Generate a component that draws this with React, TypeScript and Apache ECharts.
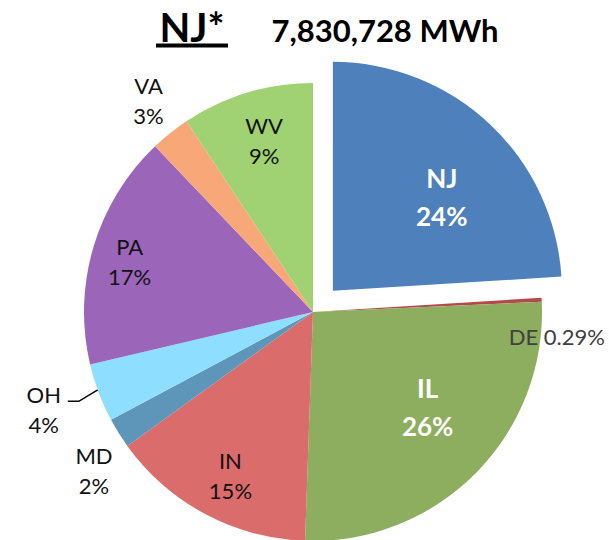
import React, { useEffect, useRef } from 'react';
import * as echarts from 'echarts';

const categories = ['NJ', 'DE', 'IL', 'IN', 'MD', 'OH', 'PA', 'VA', 'WV'];
// shares in percent of 7,830,728 MWh
const shares = [24.0, 0.29, 26.25, 14.5, 2.14, 4.13, 16.56, 2.79, 9.32];
const colors = ['#4E80BC', '#B5484A', '#8DAD5F', '#DB6C6C', '#5E96BA', '#8DDEFF', '#9B66B9', '#F8A878', '#A0D172'];
const insideLabels = ['NJ', 'IL', 'IN', 'PA', 'WV'];
const stateTitle = 'NJ*';
const totalTitle = '7,830,728 MWh';

// label placement (style): [fraction of radius, angular shift in degrees]
const labelPlace: Record<string, [number, number]> = {
  NJ: [0.62, 5.6], DE: [1.07, 8.7], IL: [0.65, -5.1], IN: [0.8, -1.3], MD: [1.18, -3.9],
  OH: [1.25, 0.8], PA: [0.83, -1.3], VA: [1.17, 0.7], WV: [0.78, 0.9],
};

const CX = 313, CY = 312, R = 229, OFFSET = 29;
const FONT = 'Lato, "Noto Sans", sans-serif';

export default function App() {
  const ref = useRef<HTMLDivElement>(null);
  useEffect(() => {
    if (!ref.current) return;
    const chart = echarts.init(ref.current, undefined, { renderer: 'svg' });
    const total = shares.reduce((a, b) => a + b, 0);
    const mids: number[] = [];
    let cum = 0;
    shares.forEach((v) => { mids.push(((cum + v / 2) / total) * 2 * Math.PI); cum += v; });

    const place = (i: number) => {
      const name = categories[i];
      const [f, shift] = labelPlace[name];
      const a0 = mids[i];
      let cx = CX, cy = CY;
      if (name === 'NJ') { cx += OFFSET * Math.sin(a0); cy -= OFFSET * Math.cos(a0); }
      const a = a0 + (shift * Math.PI) / 180;
      return { x: cx + f * R * Math.sin(a), y: cy - f * R * Math.cos(a), cx, cy, a0 };
    };

    const data = categories.map((name, i) => {
      const big = name === 'NJ' || name === 'IL';
      const isDE = name === 'DE';
      const isNJ = name === 'NJ';
      let padding: number[] = [0, 0, 0, 0];
      if (isNJ) {
        // the selected slice keeps its default inside position, shift the text sideways by padding
        const p = place(i);
        const dx = p.x - (p.cx + 0.5 * R * Math.sin(p.a0));
        padding = [0, 2 * Math.max(-dx, 0), 0, 2 * Math.max(dx, 0)];
      }
      return {
        name,
        value: shares[i],
        selected: isNJ,
        itemStyle: { color: colors[i] },
        label: {
          position: insideLabels.includes(name) ? 'inside' : 'outside',
          overflow: 'none',
          formatter: (prm: any) => isDE
            ? `${prm.name} ${prm.value.toFixed(2)}%`
            : `${prm.name}\n${Math.round(prm.value)}%` + (isNJ ? '\n{gap| }' : ''),
          color: big ? '#fff' : isDE ? '#404040' : '#111',
          fontWeight: big ? 'bold' : 'normal',
          fontSize: big ? 26 : 22,
          lineHeight: big ? 38 : 30,
          fontFamily: FONT,
          padding,
          rich: { gap: { fontSize: 10, lineHeight: 17 } },
        },
        labelLine: { show: name === 'OH', lineStyle: { color: '#000', width: 1.5 } },
      };
    });

    chart.setOption({
      animation: false,
      graphic: [
        { type: 'text', x: 192, y: 27, style: { text: stateTitle, font: `bold 40px ${FONT}`, fill: '#000', textAlign: 'center', textVerticalAlign: 'middle' } },
        { type: 'line', shape: { x1: 156, y1: 45.5, x2: 228, y2: 45.5 }, style: { stroke: '#000', lineWidth: 4 } },
        { type: 'text', x: 385, y: 30, style: { text: totalTitle, font: `bold 31px ${FONT}`, fill: '#000', textAlign: 'center', textVerticalAlign: 'middle' } },
      ],
      series: [{
        type: 'pie',
        center: [CX, CY],
        radius: R,
        startAngle: 90,
        clockwise: true,
        selectedMode: 'single',
        selectedOffset: OFFSET,
        avoidLabelOverlap: false,
        emphasis: { disabled: true },
        itemStyle: { borderWidth: 0 },
        label: { show: true },
        labelLine: { show: false },
        labelLayout: (params: any) => {
          const i = params.dataIndex;
          const name = categories[i];
          if (name === 'NJ') return {};
          const p = place(i);
          const out: any = { x: p.x, y: p.y, align: 'center', verticalAlign: 'middle' };
          if (name === 'OH') {
            const ex = p.cx + R * Math.sin(p.a0) - 1, ey = p.cy - R * Math.cos(p.a0) - 3;
            const p2 = [p.x + 24, p.y - 8];
            const p1 = [p2[0] + 11, p2[1]];
            out.labelLinePoints = [[ex, ey], p1, p2];
          }
          return out;
        },
        data,
      }],
    });
    return () => chart.dispose();
  }, []);
  return <div ref={ref} style={{ position: 'absolute', left: 0, top: 0, width: 609, height: 540 }} />;
}
